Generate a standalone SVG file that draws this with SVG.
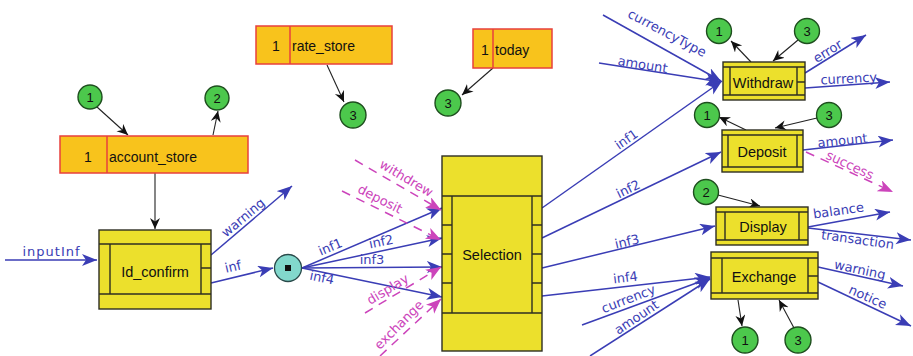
<svg xmlns="http://www.w3.org/2000/svg" width="913" height="356" viewBox="0 0 913 356">
  <style>
    .proc { fill: #ece02c; stroke: #2e2e22; stroke-width: 1.4; }
    .pline { stroke: #2e2e22; stroke-width: 1.4; fill: none; }
    .store { fill: #f8c31c; stroke: #e8403c; stroke-width: 1.5; }
    .ref { fill: #4cc84c; stroke: #1e4e1e; stroke-width: 1.4; }
    .junction { fill: #82d8cc; stroke: #2a4a4a; stroke-width: 1.3; }
    .flow { stroke: #3a3db5; stroke-width: 1.5; fill: none; marker-end: url(#ahBlue); }
    .ctrl { stroke: #cc44bb; stroke-width: 1.5; fill: none; stroke-dasharray: 9 7; marker-end: url(#ahPink); }
    .link { stroke: #222; stroke-width: 1.1; fill: none; marker-end: url(#ahBlack); }
    .ptxt { font-family: "Liberation Sans", Arial, sans-serif; font-size: 14.5px; fill: #111; text-anchor: middle; }
    .stxt { font-family: "Liberation Sans", Arial, sans-serif; font-size: 14px; fill: #111; }
    .rtxt { font-family: "Liberation Sans", Arial, sans-serif; font-size: 13px; fill: #111; text-anchor: middle; }
    .flbl { font-family: "DejaVu Sans", Verdana, sans-serif; font-size: 13px; fill: #3a3db5; text-anchor: middle; }
    .clbl { font-family: "DejaVu Sans", Verdana, sans-serif; font-size: 13px; fill: #cc44bb; text-anchor: middle; }
  </style>
  <defs>
    <marker id="ahBlue" markerUnits="userSpaceOnUse" markerWidth="17" markerHeight="13" refX="15" refY="6" orient="auto">
      <path d="M0,0 L15,6 L0,12 L4,6 Z" fill="#3a3db5"/>
    </marker>
    <marker id="ahPink" markerUnits="userSpaceOnUse" markerWidth="17" markerHeight="13" refX="15" refY="6" orient="auto">
      <path d="M0,0 L15,6 L0,12 L4,6 Z" fill="#cc44bb"/>
    </marker>
    <marker id="ahBlack" markerUnits="userSpaceOnUse" markerWidth="13" markerHeight="11" refX="11" refY="5" orient="auto">
      <path d="M0,0 L11,5 L0,10 L3.5,5 Z" fill="#111"/>
    </marker>
  </defs>

  <!-- connectors -->
  <g id="connectors">
    <!-- reference links (black) -->
    <line class="link" x1="97" y1="107" x2="128" y2="135"/>
    <line class="link" x1="213" y1="135" x2="218" y2="111"/>
    <line class="link" x1="155" y1="173" x2="155" y2="229"/>
    <line class="link" x1="327" y1="65" x2="344" y2="102"/>
    <line class="link" x1="493" y1="68" x2="462" y2="95"/>
    <line class="link" x1="751" y1="62" x2="731" y2="41"/>
    <line class="link" x1="798" y1="40" x2="773" y2="61"/>
    <line class="link" x1="746" y1="130" x2="719" y2="117"/>
    <line class="link" x1="817" y1="118" x2="775" y2="128"/>
    <line class="link" x1="718" y1="195" x2="760" y2="206"/>
    <line class="link" x1="738" y1="300" x2="742" y2="326"/>
    <line class="link" x1="794" y1="328" x2="779" y2="300"/>

    <!-- data flows (blue) -->
    <line class="flow" x1="5" y1="260" x2="97" y2="260"/>
    <line class="flow" x1="211" y1="255" x2="292" y2="186"/>
    <line class="flow" x1="211" y1="283" x2="273" y2="268"/>
    <line class="flow" x1="302" y1="268" x2="442" y2="208"/>
    <line class="flow" x1="302" y1="268" x2="442" y2="238"/>
    <line class="flow" x1="302" y1="268" x2="442" y2="267"/>
    <line class="flow" x1="302" y1="268" x2="442" y2="297"/>
    <line class="flow" x1="542" y1="208" x2="722" y2="81"/>
    <line class="flow" x1="542" y1="238" x2="721" y2="152"/>
    <line class="flow" x1="542" y1="268" x2="715" y2="226"/>
    <line class="flow" x1="542" y1="296" x2="710" y2="277"/>
    <line class="flow" x1="603" y1="15" x2="721" y2="81"/>
    <line class="flow" x1="599" y1="63" x2="721" y2="82"/>
    <line class="flow" x1="582" y1="325" x2="710" y2="278"/>
    <line class="flow" x1="590" y1="356" x2="710" y2="279"/>
    <line class="flow" x1="805" y1="73" x2="866" y2="35"/>
    <line class="flow" x1="805" y1="88" x2="890" y2="82"/>
    <line class="flow" x1="803" y1="150" x2="893" y2="140"/>
    <line class="flow" x1="808" y1="227" x2="890" y2="212"/>
    <line class="flow" x1="808" y1="228" x2="911" y2="240"/>
    <line class="flow" x1="818" y1="267" x2="903" y2="286"/>
    <line class="flow" x1="818" y1="282" x2="911" y2="326"/>

    <!-- control flows (magenta, dashed) -->
    <line class="ctrl" x1="355" y1="160" x2="441" y2="210"/>
    <line class="ctrl" x1="342" y1="191" x2="441" y2="240"/>
    <line class="ctrl" x1="365" y1="313" x2="441" y2="267"/>
    <line class="ctrl" x1="380" y1="356" x2="441" y2="299"/>
    <line class="ctrl" x1="806" y1="152" x2="893" y2="192"/>

    <!-- flow labels -->
    <text class="flbl" x="51" y="256" textLength="57">inputInf</text>
    <text class="flbl" transform="translate(246,221) rotate(-40)">warning</text>
    <text class="flbl" transform="translate(234,271) rotate(-13)">inf</text>
    <text class="flbl" transform="translate(332,251) rotate(-23)">inf1</text>
    <text class="flbl" transform="translate(382,246) rotate(-12)">inf2</text>
    <text class="flbl" transform="translate(372,264)">inf3</text>
    <text class="flbl" transform="translate(321,282) rotate(12)">inf4</text>
    <text class="flbl" transform="translate(665,37) rotate(28)">currencyType</text>
    <text class="flbl" transform="translate(642,69) rotate(9)">amount</text>
    <text class="flbl" transform="translate(629,143) rotate(-35)">inf1</text>
    <text class="flbl" transform="translate(630,193) rotate(-26)">inf2</text>
    <text class="flbl" transform="translate(628,246) rotate(-13)">inf3</text>
    <text class="flbl" transform="translate(626,282) rotate(-7)">inf4</text>
    <text class="flbl" transform="translate(630,303) rotate(-21)">currency</text>
    <text class="flbl" transform="translate(639,321) rotate(-34)">amount</text>
    <text class="flbl" transform="translate(830,55) rotate(-32)">error</text>
    <text class="flbl" transform="translate(849,83) rotate(-3)">currency</text>
    <text class="flbl" transform="translate(843,145) rotate(-6)">amount</text>
    <text class="flbl" transform="translate(839,215) rotate(-8)">balance</text>
    <text class="flbl" transform="translate(857,244) rotate(8)">transaction</text>
    <text class="flbl" transform="translate(859,274) rotate(12)">warning</text>
    <text class="flbl" transform="translate(866,301) rotate(24)">notice</text>

    <text class="clbl" transform="translate(404,182) rotate(31)">withdrew</text>
    <text class="clbl" transform="translate(378,203) rotate(27)">deposit</text>
    <text class="clbl" transform="translate(390,293) rotate(-31)">display</text>
    <text class="clbl" transform="translate(402,328) rotate(-45)">exchange</text>
    <text class="clbl" transform="translate(848,169) rotate(25)">success</text>
  </g>

  <!-- data stores -->
  <g id="account_store">
    <rect class="store" x="60" y="136" width="188" height="37"/>
    <line x1="107" y1="136" x2="107" y2="173" stroke="#e8403c" stroke-width="1.5"/>
    <text class="stxt" x="84" y="162">1</text>
    <text class="stxt" x="109" y="162">account_store</text>
  </g>
  <g id="rate_store">
    <rect class="store" x="256" y="26" width="136" height="38"/>
    <line x1="290" y1="26" x2="290" y2="64" stroke="#e8403c" stroke-width="1.5"/>
    <text class="stxt" x="272" y="51">1</text>
    <text class="stxt" x="292" y="51">rate_store</text>
  </g>
  <g id="today">
    <rect class="store" x="473" y="29" width="79" height="39"/>
    <line x1="493" y1="29" x2="493" y2="68" stroke="#e8403c" stroke-width="1.5"/>
    <text class="stxt" x="481" y="55">1</text>
    <text class="stxt" x="495" y="55">today</text>
  </g>

  <!-- processes -->
  <g id="Id_confirm">
    <rect class="proc" x="99" y="230" width="112" height="79"/>
    <path class="pline" d="M99,244 H211 M99,294 H211 M110,244 V294 M201,244 V294 M201,268 H211"/>
    <text class="ptxt" x="155" y="277" font-size="14">Id_confirm</text>
  </g>
  <g id="junction">
    <circle class="junction" cx="288" cy="268" r="13.5"/>
    <rect x="285" y="265" width="6" height="6" fill="#111"/>
  </g>
  <g id="Selection">
    <rect class="proc" x="442" y="156" width="100" height="195"/>
    <path class="pline" d="M442,196 H542 M442,313 H542 M452,196 V313 M532,196 V313 M442,225 H452 M442,254 H452 M442,283 H452 M532,225 H542 M532,254 H542 M532,283 H542"/>
    <text class="ptxt" x="492" y="260">Selection</text>
  </g>
  <g id="Withdraw">
    <rect class="proc" x="723" y="62" width="82" height="38"/>
    <path class="pline" d="M723,67 H805 M723,95 H805 M730,67 V95 M797,67 V95 M797,82 H805"/>
    <text class="ptxt" x="763" y="88">Withdraw</text>
  </g>
  <g id="Deposit">
    <rect class="proc" x="722" y="130" width="81" height="42"/>
    <path class="pline" d="M722,135 H803 M722,167 H803 M728,135 V167 M797,135 V167"/>
    <text class="ptxt" x="762" y="157">Deposit</text>
  </g>
  <g id="Display">
    <rect class="proc" x="716" y="207" width="92" height="38"/>
    <path class="pline" d="M716,212 H808 M716,240 H808 M725,212 V240 M799,212 V240"/>
    <text class="ptxt" x="763" y="232">Display</text>
  </g>
  <g id="Exchange">
    <rect class="proc" x="711" y="252" width="107" height="47"/>
    <path class="pline" d="M711,258 H818 M711,293 H818 M722,258 V293 M808,258 V293 M808,276 H818"/>
    <text class="ptxt" x="764" y="282">Exchange</text>
  </g>

  <!-- reference markers -->
  <g id="ref_acc_in"><circle class="ref" cx="90" cy="97" r="12"/><text class="rtxt" x="90" y="102">1</text></g>
  <g id="ref_acc_out"><circle class="ref" cx="217" cy="98" r="12"/><text class="rtxt" x="217" y="103">2</text></g>
  <g id="ref_rate"><circle class="ref" cx="353" cy="115" r="13"/><text class="rtxt" x="353" y="120">3</text></g>
  <g id="ref_today"><circle class="ref" cx="448" cy="103" r="13"/><text class="rtxt" x="448" y="108">3</text></g>
  <g id="ref_wd_1"><circle class="ref" cx="719" cy="31" r="12.5"/><text class="rtxt" x="719" y="36">1</text></g>
  <g id="ref_wd_3"><circle class="ref" cx="807" cy="31" r="12.5"/><text class="rtxt" x="807" y="36">3</text></g>
  <g id="ref_dp_1"><circle class="ref" cx="707" cy="115" r="12.5"/><text class="rtxt" x="707" y="120">1</text></g>
  <g id="ref_dp_3"><circle class="ref" cx="829" cy="115" r="12.5"/><text class="rtxt" x="829" y="120">3</text></g>
  <g id="ref_ds_2"><circle class="ref" cx="706" cy="192" r="12.5"/><text class="rtxt" x="706" y="197">2</text></g>
  <g id="ref_ex_1"><circle class="ref" cx="745" cy="340" r="13"/><text class="rtxt" x="745" y="345">1</text></g>
  <g id="ref_ex_3"><circle class="ref" cx="798" cy="340" r="13"/><text class="rtxt" x="798" y="345">3</text></g>
</svg>
